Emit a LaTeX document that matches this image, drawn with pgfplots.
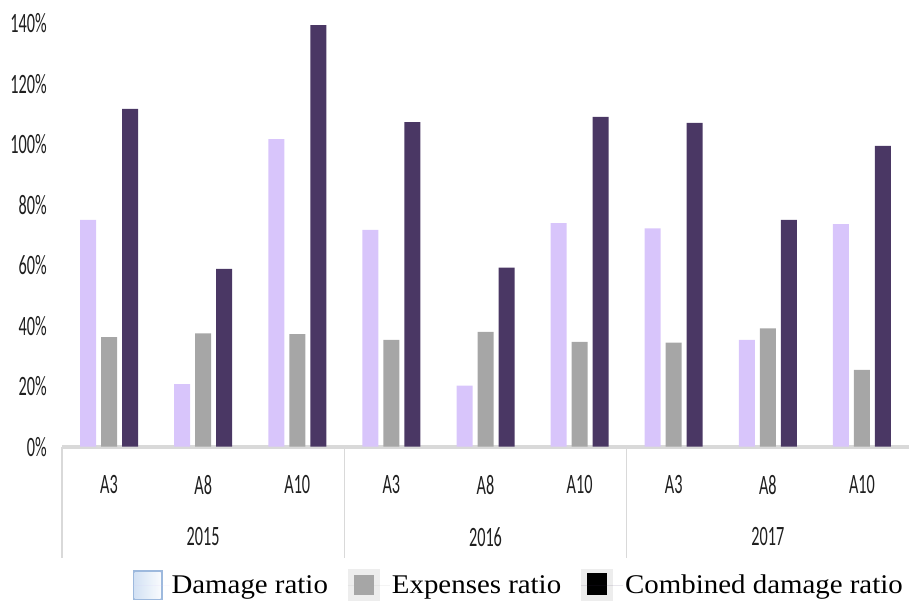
\documentclass[border=0pt]{standalone}
\usepackage{pgfplots}
\pgfplotsset{compat=1.18}
\usepackage{fontspec}
\setmainfont{Liberation Serif}
\newfontfamily\tickfam{Carlito}[FakeStretch=0.58]
\newfontfamily\legfam{Liberation Serif}[FakeStretch=1.07]
\newcommand\tickfont{\tickfam\fontsize{28}{30}\selectfont}
\newcommand\legfont{\legfam\fontsize{27}{30}\selectfont}
\definecolor{dmg}{HTML}{D8C5FB}
\definecolor{exps}{HTML}{A6A6A6}
\definecolor{comb}{HTML}{4A3764}
\definecolor{axgray}{HTML}{D9D9D9}
\definecolor{txt}{HTML}{1F1F1F}
\definecolor{legbg}{HTML}{EDEDED}
\definecolor{bluedge}{HTML}{9DB9DD}
\definecolor{bluein}{HTML}{D3E2F4}
\begin{document}
\begin{tikzpicture}
\useasboundingbox (0,0) rectangle (909pt,603pt);
\begin{axis}[
  at={(62pt,156.3pt)}, anchor=south west,
  scale only axis, width=847pt, height=423.4pt,
  ybar=5pt, bar width=16pt,
  xmin=-0.5, xmax=8.5, ymin=0, ymax=140,
  xtick={0,...,8}, xticklabels={A3,A8,A10,A3,A8,A10,A3,A8,A10},
  ytick={0,20,...,140}, yticklabels={0\%,20\%,40\%,60\%,80\%,100\%,120\%,140\%},
  axis lines*=left,
  x axis line style={draw=axgray, line width=4pt, -},
  y axis line style={draw=none},
  major tick length=0pt, tick style={draw=none},
  tick label style={font=\tickfont, text=txt, inner sep=0pt},
  yticklabel style={anchor=east, xshift=-15pt},
  xticklabel style={anchor=north, yshift=-28pt},
  clip=false,
  legend columns=3,
  legend style={draw=none, fill=none, inner sep=0pt, at={(0.9953,-0.3267)}, anchor=east,
    font=\legfont, /tikz/every even column/.append style={column sep=18pt}},
  legend cell align=left,
]
\addplot[fill=dmg, draw=none,
  legend image code/.code={\fill[bluedge] (0pt,-15pt) rectangle (30pt,15pt);
    \shade[left color=bluein, right color=white!85!bluein] (2pt,-13pt) rectangle (28pt,13pt);
    \path (0pt,0pt) -- (37pt,0pt);}]
  coordinates {(0,75.0) (1,20.7) (2,101.7) (3,71.7) (4,20.2) (5,73.9) (6,72.2) (7,35.3) (8,73.6)};
\addlegendentry{Damage ratio\hspace{15pt}}
\addplot[fill=exps, draw=none,
  legend image code/.code={\fill[legbg] (0pt,-16pt) rectangle (32pt,16pt);
    \fill[exps] (6pt,-10pt) rectangle (26pt,10pt);
    \path (0pt,0pt) -- (42pt,0pt);}]
  coordinates {(0,36.2) (1,37.5) (2,37.2) (3,35.3) (4,38.0) (5,34.7) (6,34.4) (7,39.1) (8,25.4)};
\addlegendentry{Expenses ratio}
\addplot[fill=comb, draw=none,
  legend image code/.code={\fill[legbg] (0pt,-16pt) rectangle (32pt,16pt);
    \fill[black] (6pt,-10pt) rectangle (26pt,12pt);
    \path (0pt,0pt) -- (42pt,0pt);}]
  coordinates {(0,111.7) (1,58.8) (2,139.4) (3,107.3) (4,59.2) (5,109.1) (6,107.1) (7,75.0) (8,99.5)};
\addlegendentry{Combined damage ratio}
\draw[axgray, line width=1.5pt] (axis cs:-0.5,0) -- ++(0pt,-111pt);
\draw[axgray, line width=1.5pt] (axis cs:2.5,0) -- ++(0pt,-111pt);
\draw[axgray, line width=1.5pt] (axis cs:5.5,0) -- ++(0pt,-111pt);
\node[font=\tickfont, text=txt, inner sep=0pt] at ([yshift=-90pt]axis cs:1,0) {2015};
\node[font=\tickfont, text=txt, inner sep=0pt] at ([yshift=-90pt]axis cs:4,0) {2016};
\node[font=\tickfont, text=txt, inner sep=0pt] at ([yshift=-90pt]axis cs:7,0) {2017};
\end{axis}
\end{tikzpicture}
\end{document}
